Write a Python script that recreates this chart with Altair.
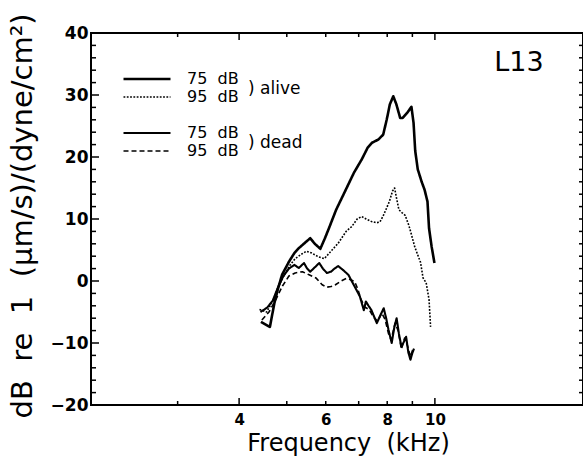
import altair as alt
import pandas as pd

# ---------------- data ----------------
ALIVE75_F = [4.43, 4.62, 4.72, 4.80, 4.89, 5.05, 5.18, 5.29, 5.45, 5.58, 5.70, 5.85, 5.97, 6.09,
             6.30, 6.57, 6.85, 7.10, 7.30, 7.45, 7.67, 7.85, 7.98, 8.10, 8.23, 8.35, 8.50, 8.60,
             8.80, 8.96, 9.05, 9.12, 9.23, 9.40, 9.53, 9.66, 9.73, 9.85, 9.98]
ALIVE75_DB = [-6.6, -7.4, -3.5, -1.2, 1.0, 3.1, 4.5, 5.3, 6.2, 6.9, 6.0, 5.2, 6.8, 8.5,
              11.5, 14.5, 17.5, 19.6, 21.5, 22.3, 22.8, 23.6, 26.0, 28.5, 29.8, 28.5, 26.3, 26.3,
              27.2, 28.1, 25.5, 21.0, 18.0, 16.0, 14.7, 12.8, 8.5, 5.5, 2.9]

ALIVE95_F = [4.40, 4.55, 4.70, 4.80, 4.93, 5.07, 5.20, 5.35, 5.48, 5.62, 5.80, 5.96, 6.10, 6.36,
             6.60, 6.78, 6.95, 7.10, 7.25, 7.43, 7.60, 7.73, 7.85, 7.95, 8.08, 8.20, 8.28, 8.35,
             8.45, 8.58, 8.70, 8.85, 8.96, 9.10, 9.25, 9.35, 9.46, 9.60, 9.73, 9.80]
ALIVE95_DB = [-4.6, -5.0, -3.0, -1.0, 0.8, 2.5, 3.6, 4.3, 4.8, 4.5, 3.9, 3.6, 4.5, 6.1,
              8.0, 8.8, 10.0, 10.4, 10.0, 9.6, 9.4, 9.5, 10.5, 11.5, 12.8, 14.5, 15.0, 13.5,
              11.5, 11.0, 10.6, 9.0, 7.5, 5.5, 4.0, 3.0, 0.5, -0.3, -3.0, -7.4]

DEAD75_F = [4.42, 4.56, 4.68, 4.80, 4.92, 5.05, 5.18, 5.29, 5.42, 5.50, 5.58, 5.70, 5.82, 5.92,
            6.03, 6.15, 6.25, 6.36, 6.50, 6.67, 6.87, 7.04, 7.17, 7.24, 7.33, 7.43, 7.62, 7.75,
            7.87, 7.96, 8.05, 8.17, 8.27, 8.36, 8.45, 8.55, 8.65, 8.74, 8.83, 8.92, 9.00, 9.07]
DEAD75_DB = [-5.0, -4.3, -3.2, -1.0, 0.8, 2.0, 2.6, 2.1, 2.9, 2.0, 1.5, 2.2, 2.9, 2.0,
             1.3, 1.5, 2.0, 2.4, 1.8, 1.0, -0.9, -2.5, -4.7, -3.3, -4.0, -4.7, -6.8, -5.5,
             -4.4, -6.0, -7.9, -10.0, -7.5, -6.0, -8.5, -10.6, -9.8, -9.0, -11.5, -12.7, -11.6, -10.9]

DEAD95_F = [4.45, 4.60, 4.75, 4.90, 5.05, 5.20, 5.38, 5.55, 5.73, 5.90, 6.03, 6.15, 6.28, 6.45,
            6.60, 6.75, 6.87, 6.97, 7.08, 7.20, 7.35, 7.50, 7.65, 7.80, 7.92, 8.05, 8.15, 8.30,
            8.42, 8.55, 8.68, 8.80, 8.92, 9.02]
DEAD95_DB = [-6.3, -5.0, -3.0, -0.8, 0.8, 1.3, 1.5, 1.0, 0.5, -0.6, -1.0, -0.9, -0.6, 0.0,
             0.4, 0.2, -0.1, -1.3, -3.0, -4.2, -4.6, -5.8, -6.5, -5.2, -6.2, -8.5, -9.5, -6.8,
             -8.0, -11.0, -9.2, -10.5, -12.2, -11.0]

SERIES = ["alive|75", "alive|95", "gap", "dead|75", "dead|95"]
SERIES_COLORS = ["black", "black", "transparent", "black", "black"]
SERIES_DASH = [[1, 0], [1.8, 1.5], [1, 0], [1, 0], [5, 3]]
SERIES_WIDTH = [2.6, 1.6, 0.1, 2.1, 1.6]

X_TICKS_SHORT = [3, 5, 6, 7, 8, 9]
X_TICKS_LONG = [4, 10]
X_LABELS = [4, 6, 8, 10]
Y_LABELS = [-20, -10, 0, 10, 20, 30, 40]
Y_MINOR = [v for v in range(-20, 41, 2) if v % 10 != 0]
Y_ALL = list(range(-20, 41, 2))

PANEL_LABEL = ["L13"]
GROUP_LABELS = [")\u00a0alive", ")\u00a0dead"]

X_TITLE = "Frequency\u00a0\u00a0(kHz)"
Y_TITLE = "dB\u00a0\u00a0re\u00a0\u00a01\u00a0\u00a0(\u03bcm/s)/(dyne/cm\u00b2)"

# ---------------- build table ----------------
rows = []
for name, fs, dbs in [("alive|75", ALIVE75_F, ALIVE75_DB),
                      ("alive|95", ALIVE95_F, ALIVE95_DB),
                      ("dead|75", DEAD75_F, DEAD75_DB),
                      ("dead|95", DEAD95_F, DEAD95_DB)]:
    for f, d in zip(fs, dbs):
        rows.append({"freq": f, "db": d, "series": name})
df = pd.DataFrame(rows)

W, H = 492, 372
FONT = "DejaVu Sans"

xscale = alt.Scale(type="log", domain=[2, 20], nice=False)
yscale = alt.Scale(domain=[-20, 40], nice=False, zero=False)

legend_kw = dict(
    title=None, orient="none", legendX=48, legendY=38, padding=0,
    symbolType="M-23.5,0H23.5", symbolSize=4, rowPadding=2,
    labelExpr="datum.value == 'gap' ? '' : split(datum.value, '|')[1] + '\u00a0\u00a0dB'",
    labelFont=FONT, labelFontSize=16, labelColor="black", labelOffset=32,
)

curves = alt.Chart(df).mark_line(strokeJoin="round", strokeCap="butt").encode(
    x=alt.X("freq:Q", scale=xscale, axis=alt.Axis(
        orient="bottom", values=X_LABELS, format="d", ticks=False, tickSize=0,
        domain=False, grid=False,
        labelFont=FONT, labelFontSize=15, labelFontWeight="bold", labelColor="black",
        labelPadding=7, title=X_TITLE, titleFont=FONT, titleFontSize=24,
        titleFontWeight="normal", titleColor="black", titleX=257, titleY=45,
        titleAlign="center", titleBaseline="alphabetic")),
    y=alt.Y("db:Q", scale=yscale, axis=alt.Axis(
        orient="left", values=Y_LABELS, ticks=False, tickSize=0,
        domain=False, grid=False,
        labelFont=FONT, labelFontSize=17, labelFontWeight="bold", labelColor="black",
        labelPadding=3, title=Y_TITLE, titleFont=FONT, titleFontSize=29,
        titleFontWeight="normal", titleColor="black", titleX=-69, titleY=385,
        titleAlign="left", titleBaseline="middle", titleAngle=270)),
    color=alt.Color("series:N", scale=alt.Scale(domain=SERIES, range=SERIES_COLORS),
                    legend=alt.Legend(**legend_kw)),
    strokeDash=alt.StrokeDash("series:N", scale=alt.Scale(domain=SERIES, range=SERIES_DASH),
                              legend=alt.Legend(**legend_kw)),
    strokeWidth=alt.StrokeWidth("series:N", scale=alt.Scale(type="ordinal", domain=SERIES, range=SERIES_WIDTH),
                                legend=alt.Legend(**legend_kw)),
    detail="series:N",
)


def xticks(values, y0, y1):
    return alt.Chart(pd.DataFrame({"v": values})).mark_rule(color="black", strokeWidth=1.5).encode(
        x=alt.X("v:Q", scale=xscale, axis=None), y=alt.value(y0), y2=alt.value(y1))


def yticks(values, x0, x1):
    return alt.Chart(pd.DataFrame({"v": values})).mark_rule(color="black", strokeWidth=1.5).encode(
        y=alt.Y("v:Q", scale=yscale, axis=None), x=alt.value(x0), x2=alt.value(x1))


tick_layers = [
    xticks(X_TICKS_SHORT, 0, 4), xticks(X_TICKS_LONG, 0, 7),
    xticks(X_TICKS_SHORT, H, H - 4), xticks(X_TICKS_LONG, H, H - 7),
    yticks(Y_LABELS, 0, 8), yticks(Y_MINOR, 0, 5),
    yticks(Y_ALL, W, W - 4),
]

panel_label = alt.Chart(pd.DataFrame({"t": PANEL_LABEL})).mark_text(
    font=FONT, fontSize=27, align="center", baseline="middle", color="black"
).encode(text="t:N", x=alt.value(428), y=alt.value(30))

alive_label = alt.Chart(pd.DataFrame({"t": GROUP_LABELS[:1]})).mark_text(
    font=FONT, fontSize=17, align="left", baseline="middle", color="black"
).encode(text="t:N", x=alt.value(157), y=alt.value(56))

dead_label = alt.Chart(pd.DataFrame({"t": GROUP_LABELS[1:]})).mark_text(
    font=FONT, fontSize=17, align="left", baseline="middle", color="black"
).encode(text="t:N", x=alt.value(157), y=alt.value(110))

chart = alt.layer(curves, *tick_layers, panel_label, alive_label, dead_label).resolve_axis(
    x="independent", y="independent"
).properties(
    width=W, height=H,
    autosize=alt.AutoSizeParams(type="none"),
    padding={"left": 91, "top": 33, "right": 0, "bottom": 60},
    background="white",
).configure_view(stroke="black", strokeWidth=2)

chart.save("out.html", embed_options={"renderer": "svg", "actions": False})
